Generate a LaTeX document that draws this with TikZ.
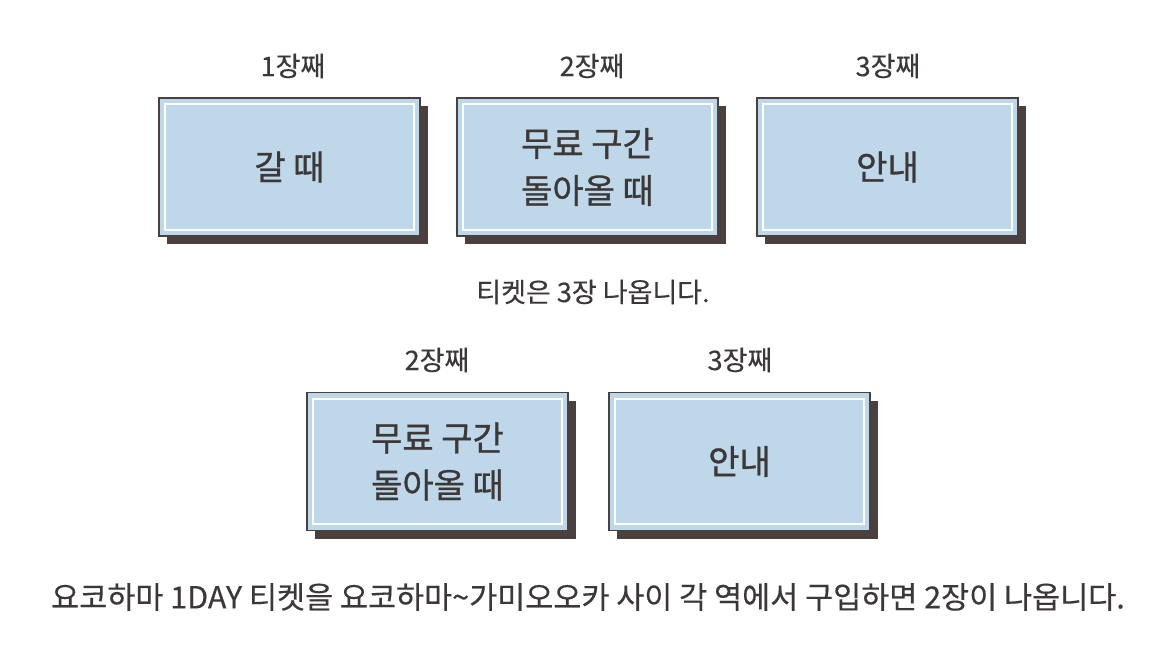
\documentclass[tikz,border=0pt]{standalone}
\usepackage{fontspec}
\setmainfont{Noto Sans CJK KR}[FakeBold=0.35]
\newfontfamily\boxfont{Noto Sans CJK KR}[FakeBold=0.9]
\usetikzlibrary{shadows}
\definecolor{bx}{HTML}{BED8EA}
\definecolor{dk}{HTML}{4A403D}
\definecolor{tx}{HTML}{3C3837}
\tikzset{
 card/.style={draw=dk,line width=1.5pt,fill=bx,minimum width=261pt,minimum height=138pt,inner sep=0pt,
  font=\boxfont\fontsize{34}{47}\selectfont,text=tx,align=center,
  drop shadow={shadow xshift=8pt,shadow yshift=-8pt,fill=dk,opacity=1}},
 inline/.style={draw=white,line width=2.2pt},
 lbl/.style={font=\fontsize{27}{32}\selectfont,text=tx}
}
\newcommand\cardin[1]{\draw[inline] ([shift={(7pt,-7pt)}]#1.north west) rectangle ([shift={(-7pt,7pt)}]#1.south east);}
\begin{document}
\begin{tikzpicture}[x=1pt,y=-1pt]
\useasboundingbox (0,0) rectangle (1153,655);
\node[card] (a) at (289.5,167) {갈 때};
\node[card] (b) at (587.5,167) {무료 구간\\돌아올 때};
\node[card] (c) at (887.5,167) {안내};
\node[card] (d) at (437.5,461.5) {무료 구간\\돌아올 때};
\node[card] (e) at (739.5,461.5) {안내};
\cardin{a}\cardin{b}\cardin{c}\cardin{d}\cardin{e}
\node[lbl] (la) at (293,66) {1장째};
\node[lbl] (lb) at (592,66) {2장째};
\node[lbl] (lc) at (888,66) {3장째};
\node[lbl] (t1) at (593,292) {티켓은 3장 나옵니다.};
\node[lbl] (ld) at (437,360) {2장째};
\node[lbl] (le) at (740,360) {3장째};
\node[lbl,font=\fontsize{30.5}{36}\selectfont] (t2) at (588,597) {요코하마 1DAY 티켓을 요코하마\textasciitilde 가미오오카 사이 각 역에서 구입하면 2장이 나옵니다.};
\end{tikzpicture}
\end{document}
